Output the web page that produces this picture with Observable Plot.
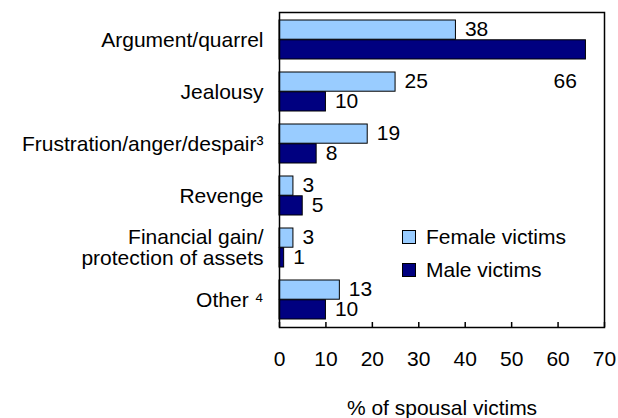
<!DOCTYPE html>
<html><head><meta charset="utf-8">
<script src="https://cdn.jsdelivr.net/npm/d3@7"></script>
<script src="https://cdn.jsdelivr.net/npm/@observablehq/plot@0.6"></script>
<style>
body{margin:0;background:#fff}
#wrap{position:relative;width:618px;height:418px;font-family:Arial,"Liberation Sans",sans-serif}
.legend{position:absolute;left:402px;top:220px;font-size:21px;color:#000}
.item{display:flex;align-items:center;height:33px}
.sw{width:12px;height:12px;border:1px solid #000;margin-right:10px}
</style></head>
<body><div id="wrap"></div>
<script>
const categories = ["Argument/quarrel","Jealousy","Frustration/anger/despair³","Revenge","Financial gain/\nprotection of assets","Other ⁴"];
const female = [38,25,19,3,3,13];
const male = [66,10,8,5,1,10];
const xTicks = [0,10,20,30,40,50,60,70];
const seriesNames = ["Female victims","Male victims"];
const colors = ["#99CCFF","#000080"];

const W = 618, H = 418, mt = 12, mb = 91, ml = 279, mr = 14;
const pi = 0.25, po = 0.11;
const plotH = H - mt - mb;
const bw = plotH / (categories.length - pi + 2*po) * (1 - pi);

const fRows = categories.map((c,i)=>({category:c, value:female[i]}));
const mRows = categories.map((c,i)=>({category:c, value:male[i]}));

const chart = Plot.plot({
  width: W, height: H, marginTop: mt, marginBottom: mb, marginLeft: ml, marginRight: mr,
  style: {fontFamily: "Arial, 'Liberation Sans', sans-serif", fontSize: "21px", color: "#000", background: "#fff"},
  x: {domain: [0,70]},
  y: {domain: categories, paddingInner: pi, paddingOuter: po},
  marks: [
    Plot.barX(fRows, {x: "value", y: "category", fill: colors[0], stroke: "#000", strokeWidth: 1, insetBottom: bw/2}),
    Plot.barX(mRows, {x: "value", y: "category", fill: colors[1], stroke: "#000", strokeWidth: 1, insetTop: bw/2}),
    Plot.text(fRows, {x: "value", y: "category", text: d => String(d.value), textAnchor: "start", dx: 9, dy: -bw/4 - 1}),
    Plot.text(mRows.filter(d => d.value < 60), {x: "value", y: "category", text: d => String(d.value), textAnchor: "start", dx: 9, dy: bw/4 - 1}),
    Plot.text(mRows.filter(d => d.value >= 60), {x: "value", y: "category", text: d => String(d.value), textAnchor: "end", dx: -9, dy: bw/4 + 31}),
    Plot.tickX(xTicks, {x: d => d, stroke: "#000", strokeWidth: 1.5, insetTop: plotH - 5}),
    Plot.frame({stroke: "#000", strokeWidth: 1.5}),
    Plot.axisY({tickSize: 0, tickPadding: 16, label: null}),
    Plot.axisX(xTicks, {tickSize: 0, tickPadding: 24, label: "% of spousal victims", labelAnchor: "center", labelOffset: 87, labelArrow: false})
  ]
});
const wrap = document.getElementById("wrap");
wrap.appendChild(chart);
const leg = document.createElement("div");
leg.className = "legend";
seriesNames.forEach((n,i)=>{
  const it = document.createElement("div"); it.className = "item";
  const sw = document.createElement("div"); sw.className = "sw"; sw.style.background = colors[i];
  const t = document.createElement("span"); t.textContent = n;
  it.appendChild(sw); it.appendChild(t); leg.appendChild(it);
});
wrap.appendChild(leg);
</script></body></html>
